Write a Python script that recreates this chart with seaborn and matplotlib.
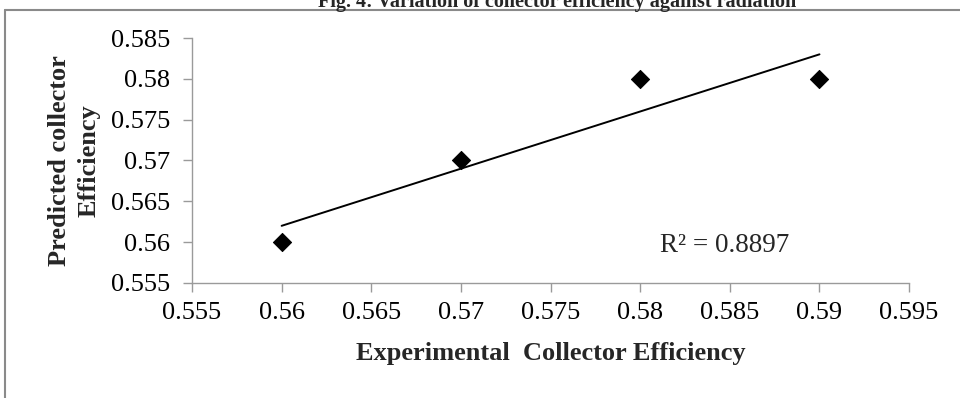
import matplotlib
matplotlib.use("Agg")
import matplotlib.pyplot as plt
import seaborn as sns
import pandas as pd
from matplotlib.lines import Line2D

experimental = [0.56, 0.57, 0.58, 0.59]
predicted = [0.56, 0.57, 0.58, 0.58]
xticks = [0.555, 0.56, 0.565, 0.57, 0.575, 0.58, 0.585, 0.59, 0.595]
yticks = [0.555, 0.56, 0.565, 0.57, 0.575, 0.58, 0.585]
r2_text = "R² = 0.8897"

df = pd.DataFrame({"x": experimental, "y": predicted})

sns.set_style("white")
plt.rcParams["font.family"] = ["Liberation Serif", "DejaVu Serif"]

fig = plt.figure(figsize=(9.6, 3.98), dpi=100)
ax = fig.add_axes([0.2, 0.289, 0.747, 0.6155])

sns.regplot(data=df, x="x", y="y", ax=ax, ci=None, scatter=False,
            line_kws=dict(color="black", lw=1.4))
sns.scatterplot(data=df, x="x", y="y", ax=ax, marker="D", s=85,
                color="black", edgecolor="black", zorder=3)

ax.set_xlim(0.555, 0.595)
ax.set_ylim(0.555, 0.585)
ax.set_xticks(xticks)
ax.set_yticks(yticks)
ax.set_xticklabels([f"{v:g}" for v in xticks])
ax.set_yticklabels([f"{v:g}" for v in yticks])
ax.tick_params(axis="both", labelsize=19, colors="#9a9a9a", labelcolor="black",
               length=6.5, width=1, direction="out", bottom=True, left=True)
ax.tick_params(axis="x", pad=7)
ax.tick_params(axis="y", pad=9)
for s in ["top", "right"]:
    ax.spines[s].set_visible(False)
for s in ["left", "bottom"]:
    ax.spines[s].set_color("#9a9a9a")
    ax.spines[s].set_linewidth(1)

ax.set_xlabel("Experimental  Collector Efficiency", fontsize=19, fontweight="bold", labelpad=13)
ax.set_ylabel("Predicted collector\nEfficiency", fontsize=19, fontweight="bold", labelpad=8,
              linespacing=1.35)
ax.text(0.5847, 0.5588, r2_text, fontsize=19.5, ha="center", va="baseline")

fig.text(0.58, 1 - 7 / 398, "Fig. 4: Variation of collector efficiency against radiation",
         fontsize=14.5, fontweight="bold", ha="center", va="baseline")

# outer frame
fig.add_artist(Line2D([5 / 960, 1.0], [1 - 9.5 / 398] * 2, color="#8a8a8a", lw=1.5,
                      transform=fig.transFigure))
fig.add_artist(Line2D([5 / 960] * 2, [0, 1 - 9.5 / 398], color="#8a8a8a", lw=1.5,
                      transform=fig.transFigure))

fig.savefig("out.png", dpi=100)
